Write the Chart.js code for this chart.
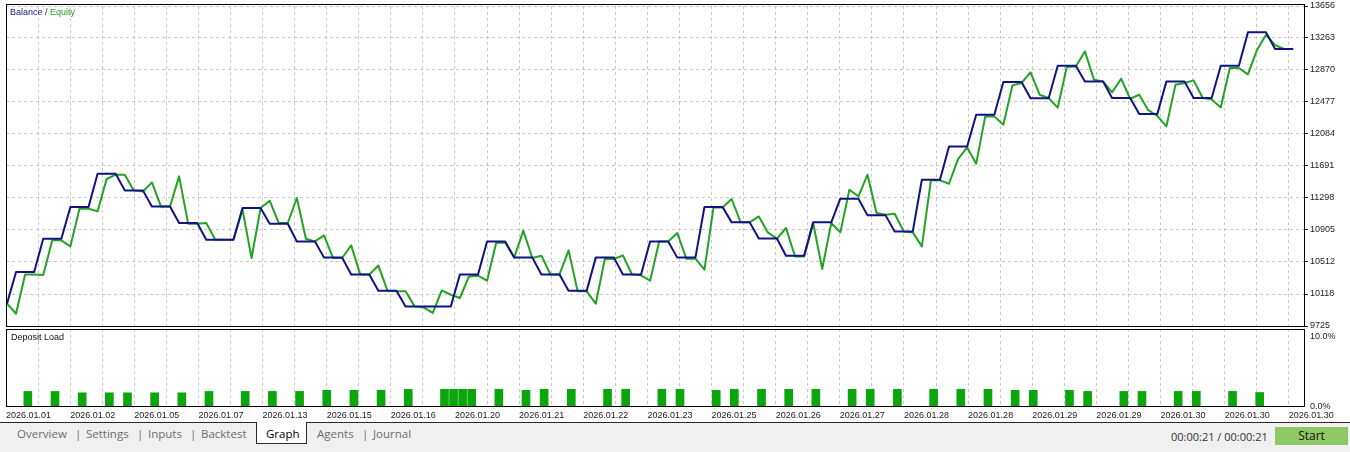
<!DOCTYPE html>
<html>
<head>
<meta charset="utf-8">
<title>Balance / Equity</title>
<script src="https://cdn.jsdelivr.net/npm/chart.js@4.4.1/dist/chart.umd.min.js"></script>
<style>
  html, body { margin: 0; padding: 0; background: #fff; }
  body { width: 1350px; height: 452px; position: relative; overflow: hidden; font-family: "Liberation Sans", Arial, sans-serif; }
  #balanceChart { position: absolute; left: 0; top: 0; }
  #loadChart { position: absolute; left: 0; top: 329px; }
  .caption { position: absolute; font-size: 9px; line-height: 11px; white-space: nowrap; }
  #tabbar { position: absolute; left: 0; top: 422px; width: 1350px; height: 30px; background: #f0f0f0; border-top: 1px solid #2a2a2a; box-sizing: border-box; }
  #graphTab { position: absolute; left: 256px; top: 422px; width: 51px; height: 22px; background: #fff; border: 1px solid #2a2a2a; border-top: none; box-sizing: border-box; }
  .tab { position: absolute; top: 426px; font-family: "Open Sans", sans-serif; font-size: 11.5px; line-height: 16px; color: #6e6e6e; white-space: nowrap; }
  #status { position: absolute; left: 1171px; top: 429px; font-family: "Open Sans", sans-serif; font-size: 11px; line-height: 16px; color: #333; }
  #start { position: absolute; left: 1275px; top: 427px; width: 73px; height: 18px; background: #8fc965; font-family: "Open Sans", sans-serif; font-size: 12px; line-height: 18px; text-align: center; color: #111; }
</style>
</head>
<body>
<canvas id="balanceChart" width="1350" height="329"></canvas>
<canvas id="loadChart" width="1350" height="93"></canvas>

<div class="caption" style="left:10px; top:7px;"><span style="color:#121285">Balance / </span><span style="color:#22a322">Equity</span></div>
<div class="caption" style="left:11px; top:332px; color:#111;">Deposit Load</div>

<div id="tabbar"></div>
<div id="graphTab"></div>
<span class="tab" style="left:17px">Overview</span>
<span class="tab" style="left:75px">|</span>
<span class="tab" style="left:86px">Settings</span>
<span class="tab" style="left:137px">|</span>
<span class="tab" style="left:148px">Inputs</span>
<span class="tab" style="left:190px">|</span>
<span class="tab" style="left:201px">Backtest</span>
<span class="tab" style="left:266px; color:#000">Graph</span>
<span class="tab" style="left:317px">Agents</span>
<span class="tab" style="left:362px">|</span>
<span class="tab" style="left:373px">Journal</span>
<div id="status">00:00:21 / 00:00:21</div>
<div id="start">Start</div>

<script>
// balance and equity per deal point (143 points)
const BALANCE = [10000,
  10388, 10388, 10388, 10797, 10797, 10797, 11187, 11187, 11187, 11596, 11596, 11596,
  11391, 11391, 11391, 11194, 11194, 11194, 10990, 10990, 10990, 10785, 10785, 10785, 10785,
  11174, 11174, 11174, 10982, 10982, 10982, 10764, 10764, 10764, 10565, 10565, 10565,
  10358, 10358, 10358, 10159, 10159, 10159, 9966, 9966, 9966, 9966, 9966, 9966,
  10358, 10358, 10358, 10764, 10764, 10764, 10565, 10565, 10565, 10358, 10358, 10358,
  10159, 10159, 10159, 10565, 10565, 10565, 10358, 10358, 10358, 10764, 10764, 10764,
  10565, 10565, 10565, 11187, 11187, 11187, 10998, 10998, 10998, 10800, 10800, 10800,
  10588, 10588, 10588, 10998, 10998, 10998, 11289, 11289, 11289, 11084, 11084, 11084,
  10887, 10887, 10887, 11522, 11522, 11522, 11931, 11931, 11931, 12321, 12321, 12321,
  12722, 12722, 12722, 12522, 12522, 12522, 12923, 12923, 12923, 12730, 12730, 12730,
  12526, 12526, 12526, 12329, 12329, 12329, 12730, 12730, 12730, 12526, 12526, 12526,
  12923, 12923, 12923, 13332, 13332, 13332, 13128, 13128, 13128];

const EQUITY = [10000,
  9876, 10358, 10358, 10350, 10777, 10777, 10703, 11166, 11166, 11133, 11531, 11584,
  11584, 11391, 11378, 11489, 11194, 11194, 11563, 10982, 10982, 10990, 10785, 10785, 10785,
  11154, 10560, 11174, 11264, 10990, 10990, 11297, 10797, 10764, 10838, 10560, 10560,
  10715, 10358, 10358, 10469, 10159, 10151, 10151, 9966, 9953, 9885, 10162, 10109,
  10069, 10334, 10343, 10281, 10745, 10752, 10568, 10896, 10560, 10589, 10358, 10358,
  10654, 10151, 10151, 9999, 10548, 10548, 10593, 10358, 10347, 10281, 10764, 10764,
  10867, 10552, 10552, 10417, 11182, 11182, 11285, 10998, 10998, 11071, 10875, 10797,
  10929, 10580, 10580, 10990, 10425, 10990, 10875, 11399, 11317, 11584, 11113, 11092,
  11104, 10887, 10875, 10703, 11514, 11514, 11473, 11776, 11919, 11719, 12300, 12300,
  12198, 12681, 12710, 12840, 12566, 12526, 12407, 12907, 12914, 13098, 12751, 12730,
  12595, 12763, 12517, 12566, 12376, 12306, 12177, 12689, 12710, 12742, 12530, 12508,
  12410, 12894, 12894, 12816, 13116, 13303, 13175, 13128, 13128];

// deposit load bars: deal point where each bar stands and its load in %
const DEPOSIT_AT = [2, 5, 8, 11, 13, 16, 19, 22, 26, 29, 32, 35, 38, 41, 44, 48, 49, 50, 51,
  54, 57, 59, 62, 66, 68, 72, 74, 78, 80, 83, 86, 89, 93, 95, 98, 102, 105, 108, 111, 113,
  117, 119, 123, 125, 129, 131, 135, 138];
const DEPOSIT_LOAD = [2.2, 2.2, 2.0, 2.0, 2.0, 2.0, 2.0, 2.2, 2.2, 2.2, 2.2, 2.35, 2.35, 2.35, 2.5,
  2.5, 2.5, 2.5, 2.5, 2.5, 2.35, 2.5, 2.5, 2.5, 2.5, 2.5, 2.5, 2.35, 2.5, 2.5, 2.5, 2.5, 2.5,
  2.5, 2.5, 2.5, 2.5, 2.5, 2.35, 2.35, 2.35, 2.2, 2.2, 2.2, 2.2, 2.2, 2.2, 2.05];

const Y_TICKS = [9725, 10118, 10512, 10905, 11298, 11691, 12084, 12477, 12870, 13263, 13656];
const LOAD_TICKS = [0, 10];
const X_LABELS = ['2026.01.01', '2026.01.02', '2026.01.05', '2026.01.07', '2026.01.13',
  '2026.01.15', '2026.01.16', '2026.01.20', '2026.01.21', '2026.01.22', '2026.01.23',
  '2026.01.25', '2026.01.26', '2026.01.27', '2026.01.28', '2026.01.28', '2026.01.29',
  '2026.01.29', '2026.01.30', '2026.01.30', '2026.01.30'];

// x axis in deal-point units, vertical grid every GRID_STEP points
const X_MIN = -0.11;
const X_MAX = 143.3;
const GRID_STEP = 3.5405;
const BAR_SHIFT = 0.3;

const GRID_COLOR = '#c8c8c8';
const TEXT_COLOR = '#1a1a1a';
const FONT = { family: 'Liberation Sans', size: 9 };

Chart.defaults.font.family = 'Liberation Sans';

function gridTicks() {
    const ticks = [];
    for (let k = 0; X_MIN + k * GRID_STEP <= X_MAX; k++) {
        ticks.push({ value: X_MIN + k * GRID_STEP });
    }
    return ticks;
}

// keep the axes from reserving room for half labels at the ends
function fitX(height) {
    return s => { s.height = height; s.paddingLeft = 0; s.paddingRight = 0; };
}
function fitY(s) {
    s.width = 45;
    s.paddingTop = 0;
    s.paddingBottom = 0;
}

// black frame round the plot area (outset lets the scale sit inside it)
function framePlugin(outTop, outBottom) {
    return {
        id: 'frame',
        afterDraw(chart) {
            const { ctx, chartArea: a } = chart;
            const l = Math.round(a.left), r = Math.round(a.right);
            const t = Math.round(a.top) - outTop, b = Math.round(a.bottom) + outBottom;
            ctx.save();
            ctx.setLineDash([]);
            ctx.strokeStyle = '#000';
            ctx.lineWidth = 1;
            ctx.strokeRect(l + 0.5, t + 0.5, r - l - 1, b - t - 1);
            ctx.restore();
        }
    };
}

new Chart(document.getElementById('balanceChart'), {
    type: 'line',
    data: {
        datasets: [{
            label: 'Balance',
            data: BALANCE.map((v, i) => ({ x: i, y: v })),
            borderColor: '#121285',
            borderWidth: 2,
            borderJoinStyle: 'round',
            pointRadius: 0,
            tension: 0,
        }, {
            label: 'Equity',
            data: EQUITY.map((v, i) => ({ x: i, y: v })),
            borderColor: '#22a322',
            borderWidth: 2,
            borderJoinStyle: 'round',
            pointRadius: 0,
            tension: 0,
        }],
    },
    options: {
        responsive: false,
        animation: false,
        devicePixelRatio: 1,
        layout: { padding: { left: 6, top: 6, right: 0, bottom: 3 } },
        plugins: { legend: { display: false }, tooltip: { enabled: false } },
        scales: {
            x: {
                type: 'linear',
                min: X_MIN,
                max: X_MAX,
                afterBuildTicks: s => { s.ticks = gridTicks(); },
                afterFit: fitX(0),
                ticks: { display: false },
                grid: { color: GRID_COLOR, drawTicks: false },
                border: { display: false, dash: [3, 3] },
            },
            y: {
                position: 'right',
                min: Y_TICKS[0],
                max: Y_TICKS[Y_TICKS.length - 1],
                afterBuildTicks: s => { s.ticks = Y_TICKS.map(v => ({ value: v })); },
                afterFit: fitY,
                ticks: { font: FONT, color: TEXT_COLOR, padding: 2, autoSkip: false, callback: v => String(v) },
                grid: { color: GRID_COLOR, tickColor: '#000', tickLength: 3, tickBorderDash: [] },
                border: { display: false, dash: [3, 3] },
            }
        }
    },
    plugins: [framePlugin(2, 1)]
});

new Chart(document.getElementById('loadChart'), {
    type: 'bar',
    data: {
        datasets: [{
            label: 'Deposit Load',
            data: DEPOSIT_AT.map((p, n) => ({ x: p + BAR_SHIFT, y: DEPOSIT_LOAD[n] })),
            backgroundColor: '#0ba60b',
            borderWidth: 0,
            barThickness: 8,
        }],
    },
    options: {
        responsive: false,
        animation: false,
        devicePixelRatio: 1,
        layout: { padding: { left: 6, top: 0, right: 0, bottom: 0 } },
        plugins: { legend: { display: false }, tooltip: { enabled: false } },
        scales: {
            x: {
                type: 'linear',
                min: X_MIN,
                max: X_MAX,
                offset: false,
                afterBuildTicks: s => { s.ticks = gridTicks(); },
                afterFit: fitX(15),
                ticks: {
                    autoSkip: false, maxRotation: 0, minRotation: 0, align: 'start', padding: 3,
                    font: FONT, color: TEXT_COLOR,
                    callback: (v, k) => (k % 2 === 0 ? X_LABELS[k / 2] : '')
                },
                grid: { color: GRID_COLOR, drawTicks: false, offset: false },
                border: { display: false, dash: [3, 3] },
            },
            y: {
                position: 'right',
                min: 0,
                max: 11,
                afterBuildTicks: s => { s.ticks = LOAD_TICKS.map(v => ({ value: v })); },
                afterFit: fitY,
                ticks: { font: FONT, color: TEXT_COLOR, padding: 5, callback: v => v.toFixed(1) + '%' },
                grid: { display: false, drawTicks: false },
                border: { display: false },
            }
        }
    },
    plugins: [framePlugin(0, 0)]
});
</script>
</body>
</html>
